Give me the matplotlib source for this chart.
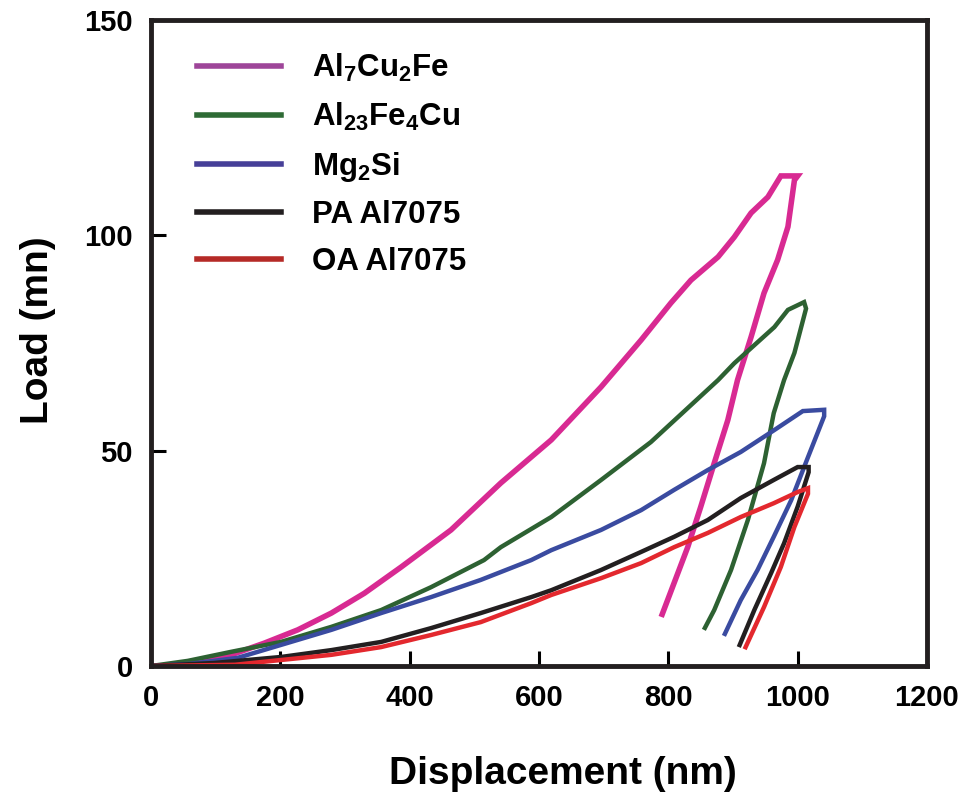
import matplotlib
matplotlib.use("Agg")
import matplotlib.pyplot as plt
from matplotlib.lines import Line2D

plt.rcParams["font.family"] = ["Liberation Sans", "DejaVu Sans"]
plt.rcParams["font.weight"] = "bold"
plt.rcParams["mathtext.fontset"] = "custom"
plt.rcParams["mathtext.rm"] = "Liberation Sans:bold"
plt.rcParams["mathtext.bf"] = "Liberation Sans:bold"
plt.rcParams["mathtext.it"] = "Liberation Sans:bold"
plt.rcParams["mathtext.default"] = "bf"

# displacement (nm) / load (mN), loading then unloading branch
al7_x = [0, 20, 72, 124, 175, 227, 279, 330, 387, 464, 541, 619, 696, 758, 804,
         835, 877, 902, 928, 954, 974, 1000, 995, 985, 969, 948, 928, 907, 892,
         871, 850, 830, 809, 789]
al7_y = [0, 0, 0.7, 2.6, 5.3, 8.4, 12.3, 16.9, 23, 31.6, 42.5, 52.5, 64.8, 75.7,
         84.3, 89.6, 95, 99.6, 105.2, 108.9, 113.8, 113.8, 112.8, 102, 94.3,
         86.6, 76.4, 66.4, 57.1, 47.1, 36.9, 27.6, 19.3, 11.4]

al23_x = [0, 57, 124, 201, 279, 356, 433, 515, 541, 619, 696, 773, 877, 902,
          933, 964, 985, 1010, 1013, 995, 979, 963, 948, 923, 897, 871, 855]
al23_y = [0, 1.2, 3.3, 5.6, 9.1, 13, 18.3, 24.6, 27.6, 34.6, 43.2, 52, 66.4,
          70.3, 74.5, 78.7, 82.7, 84.5, 83, 72.7, 66.4, 58.7, 47.1, 33.9, 22.3,
          13, 8.4]

mg2si_x = [0, 60, 134, 201, 279, 356, 433, 510, 588, 619, 696, 758, 809, 861,
           912, 964, 1008, 1041, 1041, 1016, 990, 963, 938, 912, 886]
mg2si_y = [0, 0.5, 1.9, 4.9, 8.4, 12.3, 16, 20, 24.6, 26.9, 31.6, 36.2, 40.9,
           45.5, 49.7, 54.8, 59.2, 59.5, 58, 48.5, 38.5, 30, 22.3, 15.3, 7]

pa_x = [0, 97, 201, 279, 356, 433, 510, 588, 619, 696, 758, 809, 861, 912, 963,
        1000, 1017, 1017, 1000, 979, 959, 933, 909]
pa_y = [0, 0.7, 2.1, 3.7, 5.6, 8.8, 12.3, 16, 17.6, 22.3, 26.5, 30, 33.9, 39,
        43.2, 46.2, 46.2, 45, 37, 28.5, 21.6, 13, 4.4]

oa_x = [0, 130, 201, 279, 356, 433, 510, 588, 619, 696, 758, 809, 861, 912, 963,
        1000, 1016, 1016, 995, 974, 948, 918]
oa_y = [0, 0.3, 1.4, 2.6, 4.4, 7.2, 10.2, 14.6, 16.5, 20.4, 23.9, 27.6, 30.9,
        34.6, 37.8, 40.4, 41.3, 40, 32.3, 23, 13.7, 3.9]

labels = [r"$Al_7Cu_2Fe$", r"$Al_{23}Fe_4Cu$", r"$Mg_2Si$", "PA Al7075", "OA Al7075"]

fig = plt.figure(figsize=(9.64, 8.01), dpi=100)
ax = fig.add_axes([0.1566, 0.1685, 0.805, 0.8065])

series = [
    (al7_x, al7_y, "#d82a92", 4.0, "#9e4599"),
    (al23_x, al23_y, "#2d6132", 3.2, "#2e6b35"),
    (mg2si_x, mg2si_y, "#3a4ba0", 3.2, "#463f98"),
    (pa_x, pa_y, "#231f20", 3.2, "#231f20"),
    (oa_x, oa_y, "#e3282e", 3.2, "#b52a27"),
]
handles = []
for (x, y, c, lw, lc), lab in zip(series, labels):
    ax.plot(x, y, color=c, lw=lw, solid_joinstyle="miter", solid_capstyle="butt")
    handles.append(Line2D([], [], color=lc, lw=4, label=lab))

ax.set_xlim(0, 1200)
ax.set_ylim(0, 150)
ax.set_xticks(range(0, 1201, 200))
ax.set_yticks([0, 50, 100, 150])
ax.tick_params(direction="in", length=11, width=2.2, labelsize=21, pad=13)
for s in ax.spines.values():
    s.set_linewidth(3.5)
    s.set_color("#231f20")

ax.set_xlabel("Displacement (nm)", fontsize=28, fontweight="bold")
ax.set_ylabel("Load (mn)", fontsize=28, fontweight="bold")
ax.xaxis.set_label_coords(0.531, -0.14)
ax.yaxis.set_label_coords(-0.122, 0.52)

ax.legend(handles=handles, loc="upper left", bbox_to_anchor=(0.059, 0.95),
          frameon=False, fontsize=22.5, handlelength=2.7, handletextpad=1.0,
          labelspacing=0.53, borderpad=0, borderaxespad=0)

fig.savefig("out.png", dpi=100)
